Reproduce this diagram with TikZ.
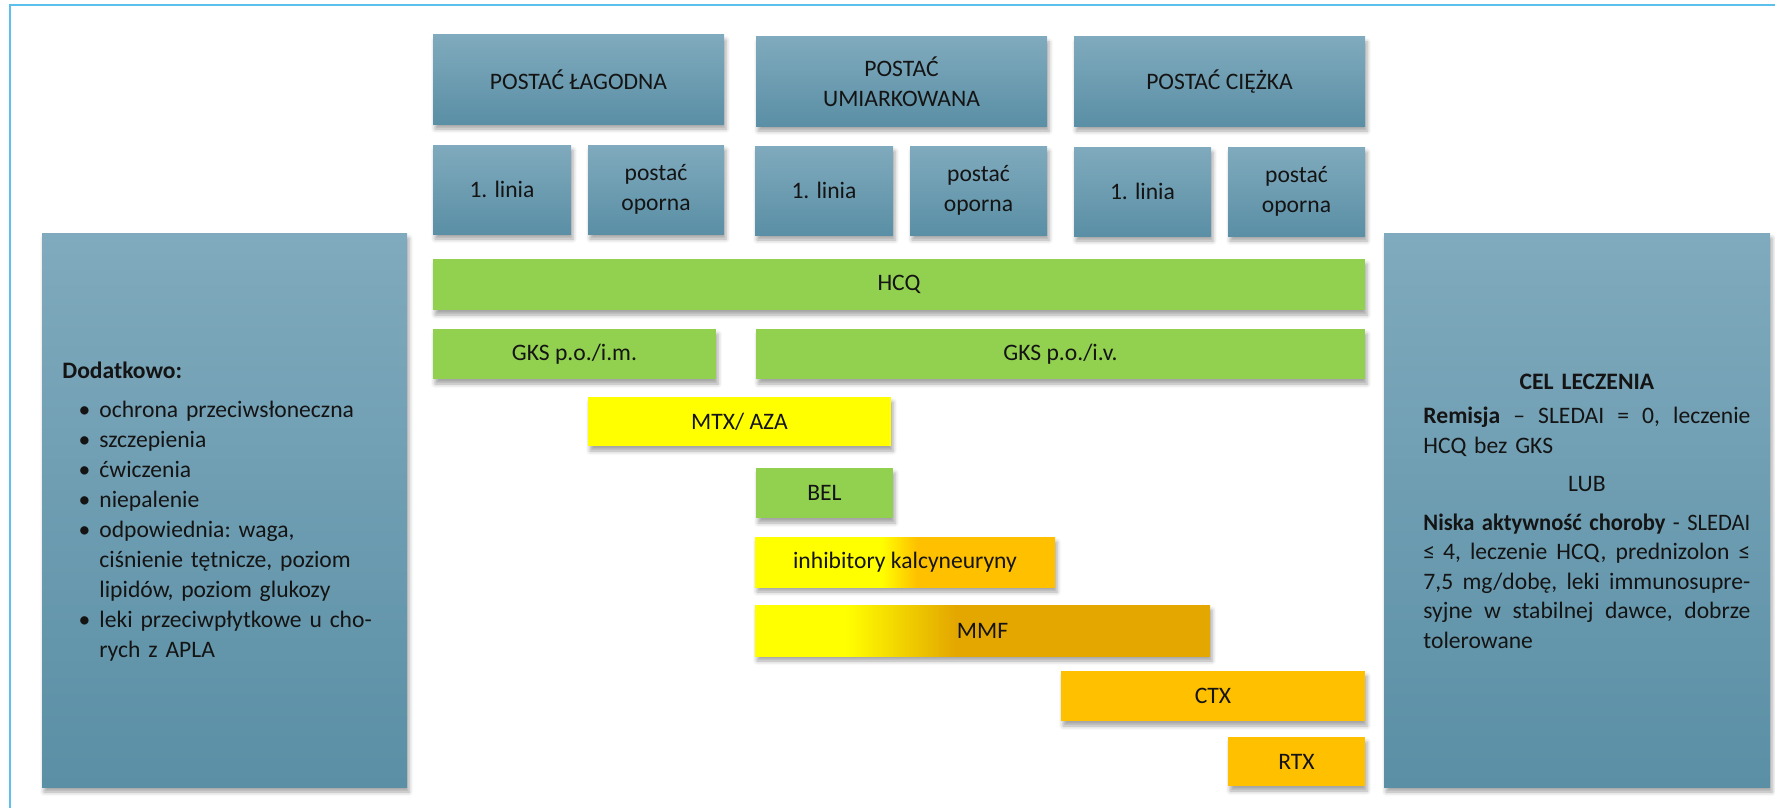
\documentclass[tikz,border=0pt]{standalone}
\usepackage{fontspec}
\setmainfont{Carlito}
\usetikzlibrary{shadows.blur}
\definecolor{framecol}{HTML}{5BC0EB}
\definecolor{bluetop}{HTML}{80AABD}
\definecolor{bluebot}{HTML}{5A8FA5}
\definecolor{grn}{HTML}{92D050}
\definecolor{ylw}{HTML}{FFFF00}
\definecolor{org}{HTML}{FFC000}
\definecolor{gld}{HTML}{E4A700}
\definecolor{txt}{HTML}{141414}
\pgfdeclarehorizontalshading{inhshade}{100bp}{color(0bp)=(ylw); color(46bp)=(ylw); color(52bp)=(org); color(100bp)=(org)}
\pgfdeclarehorizontalshading{mmfshade}{100bp}{color(0bp)=(ylw); color(35bp)=(ylw); color(47bp)=(gld); color(100bp)=(gld)}
\newcommand\jline[1]{\hbox to 163.5pt{#1}\par}
\tikzset{
  sz/.style 2 args={minimum width=#1*0.5pt, minimum height=#2*0.5pt},
  basebox/.style={rectangle, draw=none, inner sep=0pt, align=center, text=txt,
    font=\fontsize{11.8}{15}\selectfont,
    blur shadow={shadow xshift=1pt, shadow yshift=-2.5pt, shadow blur radius=2pt, shadow opacity=35}},
  bluebox/.style={basebox, top color=bluetop, bottom color=bluebot},
  greenbar/.style={basebox, fill=grn},
  yellowbar/.style={basebox, fill=ylw},
  orangebar/.style={basebox, fill=org},
  inhbar/.style={basebox, shading=inhshade},
  mmfbar/.style={basebox, shading=mmfshade},
  paneltext/.style={anchor=base west, inner sep=0pt, text=txt, font=\fontsize{11.8}{15}\selectfont\frenchspacing},
}
\begin{document}
\begin{tikzpicture}[x=0.5pt, y=-0.5pt]
\useasboundingbox (0,0) rectangle (1775,808);
\draw[framecol, line width=1pt] (10,808) -- (10,5) -- (1775,5);

% side panels
\node[bluebox, sz={365}{554}] (left) at (224.5,510) {};
\node[bluebox, sz={386}{554}] (right) at (1577,510) {};

% headers
\node[bluebox, sz={291}{89}] (lag) at (578.5,79.5) {POSTAĆ ŁAGODNA};
\node[bluebox, sz={291}{89}] (umi) at (901.5,81.5) {POSTAĆ\\UMIARKOWANA};
\node[bluebox, sz={291}{89}] (cie) at (1219.5,81.5) {POSTAĆ CIĘŻKA};

% sub headers
\node[bluebox, sz={138}{89}] (l1) at (502,189.5) {1. linia};
\node[bluebox, sz={136}{89}] (o1) at (656,189.5) {postać\\oporna};
\node[bluebox, sz={138}{89}] (l2) at (824,190.5) {1. linia};
\node[bluebox, sz={137}{89}] (o2) at (978.5,190.5) {postać\\oporna};
\node[bluebox, sz={137}{89}] (l3) at (1142.5,191.5) {1. linia};
\node[bluebox, sz={137}{89}] (o3) at (1296.5,191.5) {postać\\oporna};

% drug bars
\node[greenbar, sz={932}{51}] (hcq) at (899,284.5) {HCQ};
\node[greenbar, sz={283}{50}] (gim) at (574.5,354) {GKS p.o./i.m.};
\node[greenbar, sz={609}{50}] (giv) at (1060.5,354) {GKS p.o./i.v.};
\node[yellowbar, sz={303}{49}] (mtx) at (739.5,421.5) {MTX/ AZA};
\node[greenbar, sz={137}{50}] (bel) at (824.5,493) {BEL};
\node[inhbar, sz={300}{50}] (inh) at (905,562) {inhibitory kalcyneuryny};
\node[mmfbar, sz={455}{51}] (mmf) at (982.5,630.5) {MMF};
\node[orangebar, sz={304}{50}] (ctx) at (1213,696) {CTX};
\node[orangebar, sz={137}{49}] (rtx) at (1296.5,761.5) {RTX};

% left panel text
\node[paneltext, text width=165pt, align=left] (addtext) at (62,378) {%
\textbf{Dodatkowo:}\par
\begin{list}{\textbullet}{\setlength\leftmargin{18.5pt}\setlength\labelwidth{10pt}%
\setlength\labelsep{4.5pt}\setlength\itemsep{0pt}\setlength\parsep{0pt}%
\setlength\topsep{4.5pt}\setlength\partopsep{0pt}}
\item ochrona przeciwsłoneczna
\item szczepienia
\item ćwiczenia
\item niepalenie
\item odpowiednia: waga,\newline ciśnienie tętnicze, poziom\newline lipidów, poziom glukozy
\item leki przeciwpłytkowe u cho-\newline rych z APLA
\end{list}};

% right panel text
\node[paneltext, text width=163.5pt, font=\fontsize{11.8}{14.75}\selectfont\frenchspacing] (goal) at (1423,389) {%
{\centering\textbf{CEL LECZENIA}\par}\vspace{2.5pt}
\jline{\textbf{Remisja}\hfill–\hfill SLEDAI\hfill=\hfill 0,\hfill leczenie}
HCQ bez GKS\par\vspace{4.5pt}
{\centering LUB\par}\vspace{4.5pt}
\jline{\resizebox{163.5pt}{\height}{\textbf{Niska aktywność choroby} - SLEDAI}}
\jline{≤ 4,\hfill leczenie\hfill HCQ,\hfill prednizolon\hfill ≤}
\jline{7,5\hfill mg/dobę,\hfill leki\hfill immunosupre-}
\jline{syjne\hfill w\hfill stabilnej\hfill dawce,\hfill dobrze}
tolerowane};
\end{tikzpicture}
\end{document}
